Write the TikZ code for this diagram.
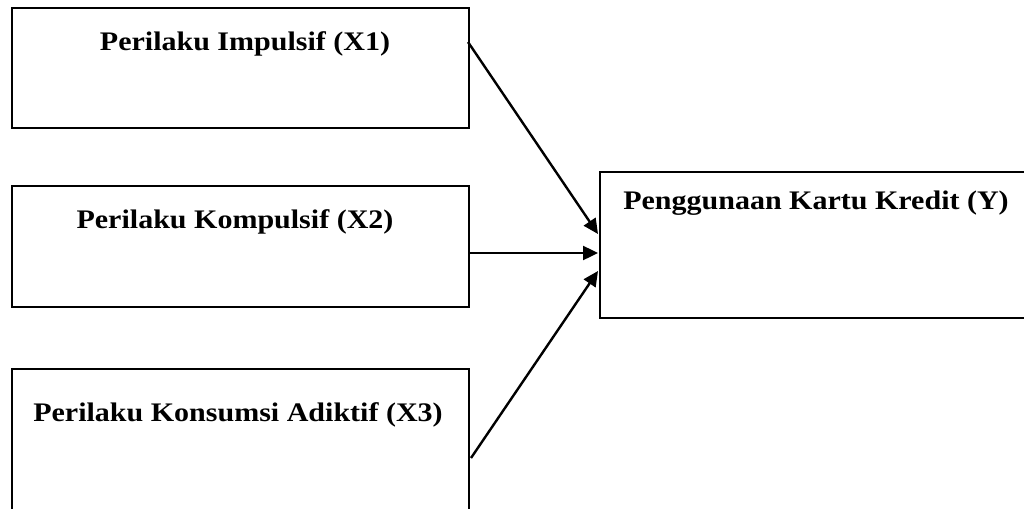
\documentclass[tikz,border=0pt]{standalone}
\usepackage{fontspec}
\newfontfamily\lblfont[FakeStretch=1.12]{Liberation Serif}
\usetikzlibrary{arrows.meta}
\begin{document}
\begin{tikzpicture}[x=1pt,y=-1pt,
  box/.style={draw=black,line width=2pt,rectangle,inner sep=0pt,anchor=north west},
  lbl/.style={anchor=base,inner sep=0pt,font=\lblfont\bfseries\fontsize{26.8}{30}\selectfont},
  arr/.style={line width=2.4pt,-{Triangle[length=15pt,width=14pt]}}]
\useasboundingbox (0,0) rectangle (1024,508);
\clip (0,0) rectangle (1024,508);
\node[box,minimum width=457pt,minimum height=120pt] (x1) at (11,7) {};
\node[box,minimum width=457pt,minimum height=121pt] (x2) at (11,185) {};
\node[box,minimum width=457pt,minimum height=160pt] (x3) at (11,368) {};
\node[box,minimum width=440pt,minimum height=146pt] (y) at (599,171) {};
\node[lbl] (tx1) at (245,51) {Perilaku Impulsif (X1)};
\node[lbl] (tx2) at (235,228) {Perilaku Kompulsif (X2)};
\node[lbl] (tx3) at (238,421) {Perilaku Konsumsi Adiktif (X3)};
\node[lbl] (ty) at (816,209) {Penggunaan Kartu Kredit (Y)};
\coordinate (s1) at (468,42);
\coordinate (s2) at (468,253);
\coordinate (s3) at (471,458);
\coordinate (e1) at (598,234);
\coordinate (e2) at (598,253);
\coordinate (e3) at (598,271);
\draw[arr] (s1) -- (e1);
\draw[arr] (s2) -- (e2);
\draw[arr] (s3) -- (e3);
\end{tikzpicture}
\end{document}
